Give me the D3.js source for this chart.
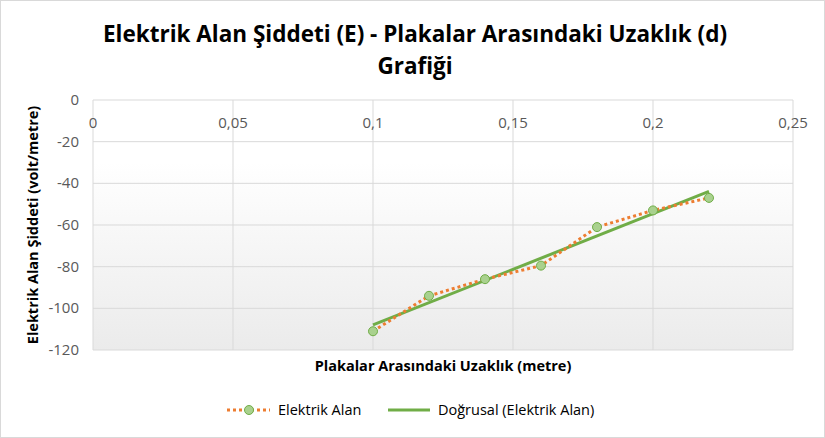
<!DOCTYPE html>
<html><head><meta charset="utf-8">
<script src="https://cdn.jsdelivr.net/npm/d3@7"></script>
<style>body{margin:0;background:#fff}text{font-family:"Open Sans",sans-serif}</style>
</head><body><svg id="c" width="825" height="438"></svg>
<script>
const xValues=[0.10,0.12,0.14,0.16,0.18,0.20,0.22];
const eValues=[-111,-94,-86,-79.5,-61,-53,-47];
const xTicks=[0,0.05,0.1,0.15,0.2,0.25];
const yTicks=[0,-20,-40,-60,-80,-100,-120];
const svg=d3.select("#c");
const L=93,R=793,T=100,B=350;
const x=d3.scaleLinear().domain([0,0.25]).range([L,R]);
const y=d3.scaleLinear().domain([-120,0]).range([B,T]);
const defs=svg.append("defs");
const g=defs.append("linearGradient").attr("id","bg").attr("x1",0).attr("x2",0).attr("y1",0).attr("y2",1);
g.append("stop").attr("offset","0.25").attr("stop-color","#ffffff");
g.append("stop").attr("offset","1").attr("stop-color","#ebebeb");
svg.append("rect").attr("x",L).attr("y",T).attr("width",R-L).attr("height",B-T).attr("fill","url(#bg)");
svg.append("rect").attr("x",0.5).attr("y",0.5).attr("width",824).attr("height",437).attr("fill","none").attr("stroke","#d9d9d9");
const grid=svg.append("g").attr("stroke","#d9d9d9").attr("stroke-width",1);
yTicks.forEach(t=>grid.append("line").attr("x1",L).attr("x2",R).attr("y1",y(t)).attr("y2",y(t)));
xTicks.forEach(t=>grid.append("line").attr("x1",x(t)).attr("x2",x(t)).attr("y1",T).attr("y2",B));
const fmt=d=>String(d).replace(".",",");
svg.append("g").selectAll("text").data(xTicks).join("text").attr("x",d=>x(d)).attr("y",T+28)
 .attr("text-anchor","middle").attr("font-size",15).attr("fill","#595959").text(fmt);
svg.append("g").selectAll("text").data(yTicks).join("text").attr("x",L-14).attr("y",d=>y(d)+5)
 .attr("text-anchor","end").attr("font-size",15).attr("fill","#595959").text(fmt);
const mx=d3.mean(xValues),my=d3.mean(eValues);
const b=d3.sum(xValues,(v,i)=>(v-mx)*(eValues[i]-my))/d3.sum(xValues,v=>(v-mx)**2);
const a=my-b*mx;
const x0=xValues[0],x1=xValues[xValues.length-1];
svg.append("line").attr("x1",x(x0)).attr("y1",y(a+b*x0)).attr("x2",x(x1)).attr("y2",y(a+b*x1))
 .attr("stroke","#70ad47").attr("stroke-width",3);
const pts=xValues.map((v,i)=>[v,eValues[i]]);
svg.append("path").attr("d",d3.line().x(d=>x(d[0])).y(d=>y(d[1]))(pts)).attr("fill","none")
 .attr("stroke","#ed7d31").attr("stroke-width",3).attr("stroke-dasharray","3,3");
svg.append("g").selectAll("circle").data(pts).join("circle").attr("cx",d=>x(d[0])).attr("cy",d=>y(d[1]))
 .attr("r",4.5).attr("fill","#a9d18e").attr("stroke","#70ad47").attr("stroke-width",1);
svg.append("text").attr("x",415).attr("y",42).attr("text-anchor","middle").attr("font-size",22.5).attr("font-weight","bold").attr("fill","#000")
 .text("Elektrik Alan Şiddeti (E) - Plakalar Arasındaki Uzaklık (d)");
svg.append("text").attr("x",415).attr("y",74).attr("text-anchor","middle").attr("font-size",22.5).attr("font-weight","bold").attr("fill","#000").text("Grafiği");
svg.append("text").attr("x",443).attr("y",371).attr("text-anchor","middle").attr("font-size",14.5).attr("font-weight","bold").text("Plakalar Arasındaki Uzaklık (metre)");
svg.append("text").attr("transform","translate(38,225) rotate(-90)").attr("text-anchor","middle").attr("font-size",14.5).attr("font-weight","bold").text("Elektrik Alan Şiddeti (volt/metre)");
const lg=svg.append("g");
lg.append("line").attr("x1",227).attr("x2",270).attr("y1",410).attr("y2",410).attr("stroke","#ed7d31").attr("stroke-width",3).attr("stroke-dasharray","3,3");
lg.append("circle").attr("cx",249).attr("cy",410).attr("r",4.5).attr("fill","#a9d18e").attr("stroke","#70ad47");
lg.append("text").attr("x",278).attr("y",415).attr("font-size",14.5).attr("fill","#000").text("Elektrik Alan");
lg.append("line").attr("x1",388).attr("x2",430).attr("y1",410).attr("y2",410).attr("stroke","#70ad47").attr("stroke-width",3);
lg.append("text").attr("x",438).attr("y",415).attr("font-size",14.5).attr("fill","#000").text("Doğrusal (Elektrik Alan)");
</script></body></html>
